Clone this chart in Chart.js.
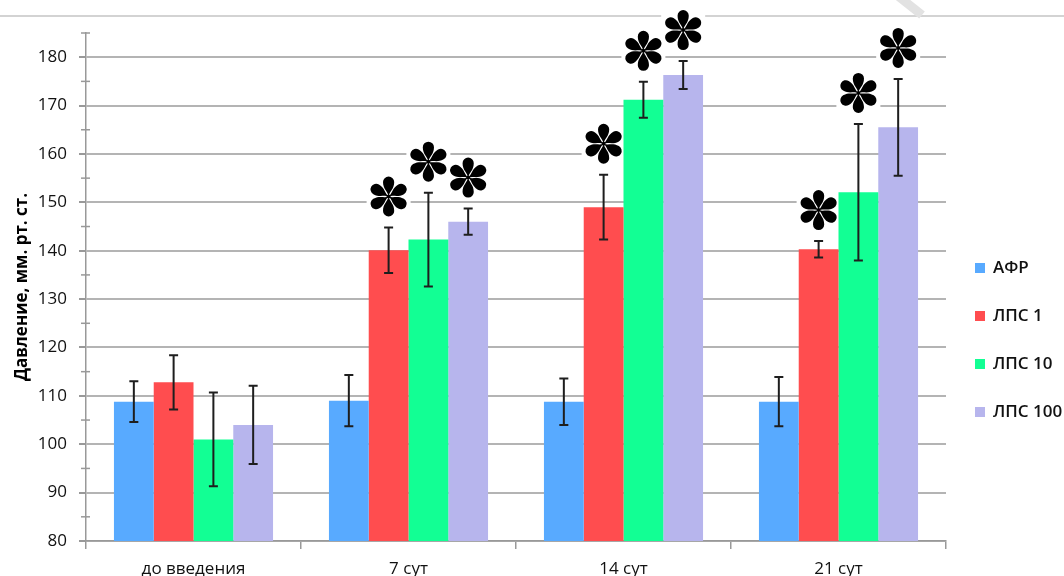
<!DOCTYPE html>
<html>
<head>
<meta charset="utf-8">
<script src="https://cdn.jsdelivr.net/npm/chart.js@4/dist/chart.umd.min.js"></script>
<style>
  html, body { margin: 0; padding: 0; background: #fff; }
  #wrap { width: 1064px; height: 576px; position: relative; }
</style>
</head>
<body>
<div id="wrap"><canvas id="pressure" width="1064" height="576"></canvas></div>
<script>
const categories = ['до введения', '7 сут', '14 сут', '21 сут']
const seriesNames = ['АФР', 'ЛПС 1', 'ЛПС 10', 'ЛПС 100']
const seriesColors = ['#58aaff', '#ff4d4f', '#12ff94', '#b7b5ed']

// средние значения, мм рт. ст.
const afr = [108.8, 109, 108.8, 108.8]
const lps1 = [112.8, 140.1, 149, 140.3]
const lps10 = [101, 142.3, 171.2, 152.1]
const lps100 = [104, 146, 176.3, 165.5]

// погрешности (+/-)
const afrErr = [4.2, 5.3, 4.8, 5.1]
const lps1Err = [5.6, 4.7, 6.7, 1.7]
const lps10Err = [9.7, 9.7, 3.7, 14.1]
const lps100Err = [8.1, 2.7, 2.9, 10]

// звёздочки - достоверные отличия
const afrStar = [0, 0, 0, 0]
const lps1Star = [0, 1, 1, 1]
const lps10Star = [0, 1, 1, 1]
const lps100Star = [0, 1, 1, 1]

const yTicks = [80, 90, 100, 110, 120, 130, 140, 150, 160, 170, 180]

const values = [afr, lps1, lps10, lps100]
const errors = [afrErr, lps1Err, lps10Err, lps100Err]
const stars = [afrStar, lps1Star, lps10Star, lps100Star]

const FONT = "'Open Sans', 'DejaVu Sans', sans-serif"
const STAR_GAP = 31

function drawStar(ctx, cx, cy, r) {
  const bulbR = r * 0.28
  const bulbC = r - bulbR
  ctx.save()
  ctx.translate(cx, cy)
  ctx.fillStyle = '#000'
  for (let k = 0; k < 6; k++) {
    ctx.save()
    ctx.rotate(-Math.PI / 2 + k * Math.PI / 3)
    ctx.beginPath()
    ctx.moveTo(0, 0)
    ctx.bezierCurveTo(bulbC * 0.35, -0.8, bulbC * 0.5, -bulbR, bulbC, -bulbR)
    ctx.arc(bulbC, 0, bulbR, -Math.PI / 2, Math.PI / 2)
    ctx.bezierCurveTo(bulbC * 0.5, bulbR, bulbC * 0.35, 0.8, 0, 0)
    ctx.fill()
    ctx.restore()
  }
  ctx.beginPath()
  ctx.arc(0, 0, 2, 0, Math.PI * 2)
  ctx.fill()
  ctx.restore()
}

function eachStar(chart, fn) {
  const y = chart.scales.y
  chart.data.datasets.forEach((ds, i) => {
    chart.getDatasetMeta(i).data.forEach((bar, j) => {
      if (!stars[i][j]) return
      const top = y.getPixelForValue(values[i][j] + errors[i][j])
      fn(bar.x, top - STAR_GAP)
    })
  })
}

const decor = {
  id: 'decor',
  beforeDraw(chart) {
    const ctx = chart.ctx
    ctx.save()
    ctx.fillStyle = '#fff'
    ctx.fillRect(0, 0, chart.width, chart.height)
    // линия обреза сверху
    ctx.strokeStyle = '#c4c4c4'
    ctx.lineWidth = 1.5
    ctx.beginPath()
    ctx.moveTo(0, 16)
    ctx.lineTo(chart.width, 16)
    ctx.stroke()
    ctx.strokeStyle = '#e2e2e2'
    ctx.lineWidth = 9
    ctx.beginPath()
    ctx.moveTo(898, -4)
    ctx.lineTo(922, 15)
    ctx.stroke()
    ctx.restore()
  },
  beforeDatasetsDraw(chart) {
    // белая подложка под звёздочками (разрывает линии сетки)
    const ctx = chart.ctx
    ctx.save()
    ctx.fillStyle = '#fff'
    eachStar(chart, (x, cy) => ctx.fillRect(x - 22, cy - 22, 44, 44))
    ctx.restore()
  },
  afterDatasetsDraw(chart) {
    const ctx = chart.ctx
    const y = chart.scales.y
    ctx.save()
    // мелкие деления оси
    ctx.strokeStyle = '#999'
    ctx.lineWidth = 1.5
    const ax = chart.chartArea.left
    for (let v = 85; v <= 185; v += 10) {
      const py = y.getPixelForValue(v)
      ctx.beginPath()
      ctx.moveTo(ax - 5, py)
      ctx.lineTo(ax + 4, py)
      ctx.stroke()
    }
    // планки погрешностей
    ctx.strokeStyle = '#1e1e1e'
    ctx.lineWidth = 2
    chart.data.datasets.forEach((ds, i) => {
      chart.getDatasetMeta(i).data.forEach((bar, j) => {
        const v = values[i][j], e = errors[i][j]
        const top = y.getPixelForValue(v + e)
        const bot = y.getPixelForValue(v - e)
        ctx.beginPath()
        ctx.moveTo(bar.x, top); ctx.lineTo(bar.x, bot)
        ctx.moveTo(bar.x - 4.5, top); ctx.lineTo(bar.x + 4.5, top)
        ctx.moveTo(bar.x - 4.5, bot); ctx.lineTo(bar.x + 4.5, bot)
        ctx.stroke()
      })
    })
    eachStar(chart, (x, cy) => drawStar(ctx, x, cy, 20))
    ctx.restore()
  },
  afterDraw(chart) {
    const ctx = chart.ctx
    ctx.save()
    ctx.font = '600 17px ' + FONT
    ctx.textBaseline = 'middle'
    ctx.textAlign = 'left'
    const lx = chart.chartArea.right + 29
    chart.data.datasets.forEach((ds, i) => {
      const ly = 268 + i * 48
      ctx.fillStyle = ds.backgroundColor
      ctx.fillRect(lx, ly - 5, 10, 10)
      ctx.fillStyle = '#111'
      ctx.fillText(ds.label, lx + 18, ly)
    })
    ctx.restore()
  }
}

new Chart(document.getElementById('pressure'), {
  type: 'bar',
  data: {
    labels: categories,
    datasets: values.map((arr, i) => ({
      label: seriesNames[i],
      data: arr,
      backgroundColor: seriesColors[i],
      borderWidth: 0,
      categoryPercentage: 0.74,
      barPercentage: 1.0
    }))
  },
  options: {
    responsive: false,
    animation: false,
    devicePixelRatio: 1,
    layout: { padding: { top: 33, right: 118, left: 0, bottom: 0 } },
    plugins: {
      legend: { display: false },
      tooltip: { enabled: false }
    },
    scales: {
      x: {
        afterFit: s => { s.height = 35 },
        border: { color: '#999', width: 1.5 },
        grid: { drawOnChartArea: false, offset: true, tickLength: 8, tickColor: '#999', lineWidth: 1.5 },
        ticks: { color: '#111', padding: 10, maxRotation: 0, font: { family: FONT, size: 17, weight: 500 } }
      },
      y: {
        min: 80,
        max: 185,
        afterFit: s => { s.width = 86 },
        border: { color: '#999', width: 1.5 },
        grid: {
          color: c => (c.tick && c.tick.value % 10 === 0 ? '#b4b4b4' : 'rgba(0,0,0,0)'),
          tickColor: c => (c.tick && c.tick.value % 10 === 0 ? '#999' : 'rgba(0,0,0,0)'),
          lineWidth: 2,
          tickLength: 7
        },
        ticks: {
          stepSize: 5,
          padding: 12,
          autoSkip: false,
          color: '#111',
          font: { family: FONT, size: 17, weight: 500 },
          callback: v => (yTicks.includes(v) ? String(v) : '')
        },
        title: {
          display: true,
          text: 'Давление, мм. рт. ст.',
          color: '#000',
          font: { family: FONT, size: 17, weight: 'bold' },
          padding: { top: 12, bottom: 0 }
        }
      }
    }
  },
  plugins: [decor]
})
</script>
</body>
</html>
